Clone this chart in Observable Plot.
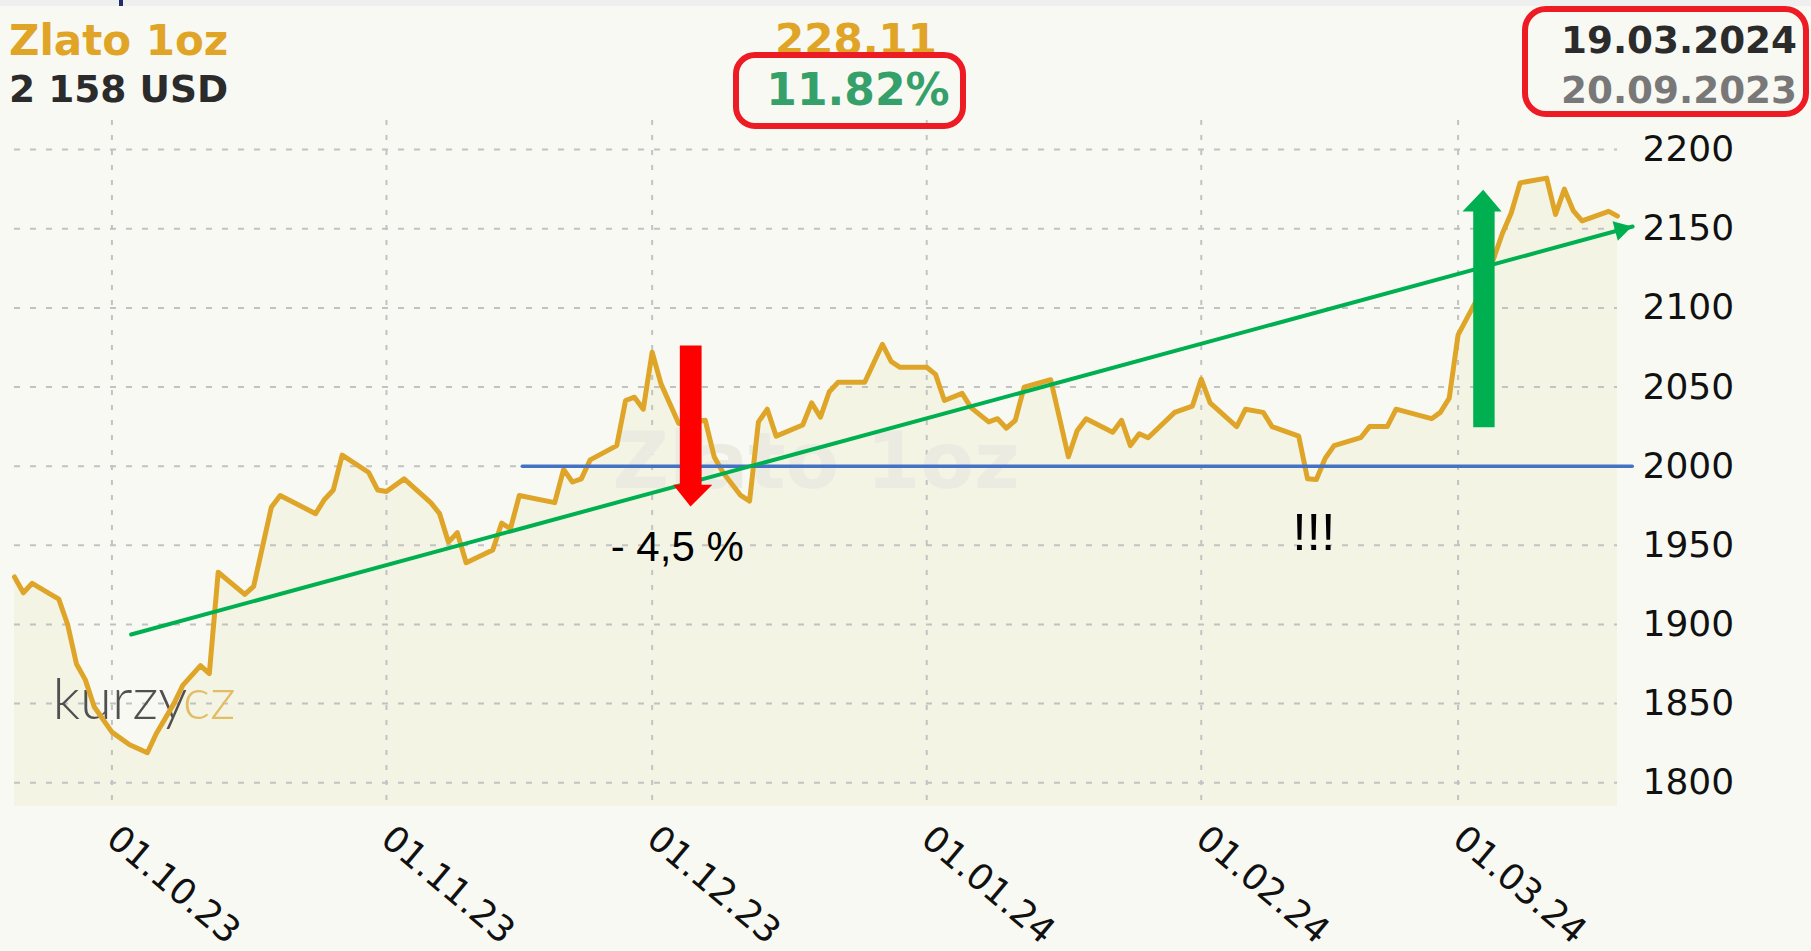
<!DOCTYPE html>
<html><head><meta charset="utf-8">
<script src="https://cdn.jsdelivr.net/npm/d3@7"></script>
<script src="https://cdn.jsdelivr.net/npm/@observablehq/plot@0.6"></script>
<style>
html,body{margin:0;padding:0;background:#f9f9f4;}
#wrap{position:relative;width:1811px;height:951px;overflow:hidden;background:#f9f9f4;font-family:"DejaVu Sans",Verdana,sans-serif;}
#chart{position:absolute;left:0;top:0;}
.t{position:absolute;font-weight:bold;white-space:nowrap;line-height:1;}
.box{position:absolute;box-sizing:border-box;border:6px solid #ed1c24;}
</style></head><body>
<div id="wrap">
  <div id="chart"></div>
  <div style="position:absolute;left:0;top:0;width:1811px;height:6px;background:#efefef"></div>
  <div style="position:absolute;left:119px;top:0;width:4px;height:6px;background:#1f2f6e"></div>
  <div class="t" id="name" style="left:9px;top:19.5px;font-size:42px;color:#e0a526"></div>
  <div class="t" id="price" style="left:9px;top:70.8px;font-size:37.5px;color:#2b2b2b"></div>
  <div class="t" id="chg" style="left:856px;top:18.5px;font-size:42px;color:#e0a526;transform:translateX(-50%)"></div>
  <div class="t" id="pct" style="left:858px;top:67.8px;font-size:44px;color:#35a06a;transform:translateX(-50%)"></div>
  <div class="t" id="d1" style="right:14px;top:21.9px;font-size:37.3px;color:#2b2b2b"></div>
  <div class="t" id="d0" style="right:14px;top:72.4px;font-size:37.3px;color:#787878"></div>
  <div class="box" style="left:733px;top:52px;width:233px;height:77px;border-radius:22px"></div>
  <div class="box" style="left:1522px;top:6px;width:287px;height:111px;border-radius:24px"></div>
</div>
<script>
// ---- header texts ----
const titleName = "Zlato 1oz";
const titlePrice = "2 158 USD";
const titleChange = "228.11";
const titlePct = "11.82%";
const dateEnd = "19.03.2024";
const dateStart = "20.09.2023";

// ---- price series (USD / oz) ----
const dates = [
"2023-09-20","2023-09-21","2023-09-22","2023-09-25","2023-09-26","2023-09-27","2023-09-28","2023-09-29",
"2023-10-01","2023-10-03","2023-10-05","2023-10-06","2023-10-08","2023-10-09","2023-10-11","2023-10-12",
"2023-10-13","2023-10-16","2023-10-17","2023-10-19","2023-10-20","2023-10-24","2023-10-25","2023-10-26",
"2023-10-27","2023-10-30","2023-10-31","2023-11-01","2023-11-03","2023-11-06","2023-11-07","2023-11-08",
"2023-11-09","2023-11-10","2023-11-13","2023-11-14","2023-11-15","2023-11-16","2023-11-20","2023-11-21",
"2023-11-22","2023-11-23","2023-11-24","2023-11-27","2023-11-28","2023-11-29","2023-11-30","2023-12-01",
"2023-12-02","2023-12-04","2023-12-07","2023-12-08","2023-12-09","2023-12-11","2023-12-12","2023-12-13",
"2023-12-14","2023-12-15","2023-12-18","2023-12-19","2023-12-20","2023-12-21","2023-12-22","2023-12-25",
"2023-12-26","2023-12-27","2023-12-28","2023-12-29","2024-01-01","2024-01-02","2024-01-03","2024-01-05",
"2024-01-06","2024-01-08","2024-01-09","2024-01-10","2024-01-11","2024-01-12","2024-01-15","2024-01-17",
"2024-01-18","2024-01-19","2024-01-22","2024-01-23","2024-01-24","2024-01-25","2024-01-26","2024-01-29",
"2024-01-31","2024-02-01","2024-02-02","2024-02-05","2024-02-06","2024-02-08","2024-02-09","2024-02-12",
"2024-02-13","2024-02-14","2024-02-15","2024-02-16","2024-02-19","2024-02-20","2024-02-22","2024-02-23",
"2024-02-27","2024-02-28","2024-02-29","2024-03-01","2024-03-03","2024-03-05","2024-03-06","2024-03-07",
"2024-03-08","2024-03-11","2024-03-12","2024-03-13","2024-03-14","2024-03-15","2024-03-18","2024-03-19"];
const prices = [
1930,1920,1926,1916,1900,1875,1865,1848,
1832,1824,1819,1831,1850,1861.5,1874,1869,
1933,1919,1924,1974,1981.5,1970,1979,1985,
2007,1996,1985,1984,1992,1977,1970,1952,
1958,1939,1947,1964,1960.5,1981.5,1977,1998,
1990,1992,2004,2013,2041.5,2043.6,2036,2072,
2052,2027,2029,2006,1996,1981.5,1978,2028,
2036,2019,2026,2040,2031,2047,2053,2053,
2065,2077,2066,2062.5,2062.5,2058,2041.5,2046,
2037,2028,2030,2024,2029,2050,2054.6,2006,
2022.6,2030,2021.5,2029,2013,2020.5,2018,2034,
2038,2055,2040,2025,2036,2034,2025,2019,
1992,1991.6,2005,2013,2018,2025,2025,2036,
2030,2034,2043,2083,2104,2131,2147,2160,
2179,2182,2159,2175,2161.5,2155,2161,2158];

// ---- axes ----
const yTicks = [1800,1850,1900,1950,2000,2050,2100,2150,2200];
const monthTicks = ["2023-10-01","2023-11-01","2023-12-01","2024-01-01","2024-02-01","2024-03-01"];
const xDomain = ["2023-09-20","2024-03-19"];
const yDomain = [1785, 2218.4];

// ---- annotations (data units) ----
const levelDates = ["2023-11-16T08:00Z","2024-03-20T16:00Z"];
const levelValues = [2000, 2000];
const trendDates = ["2023-10-03T04:00Z","2024-03-20T17:00Z"];
const trendValues = [1893.7, 2151.4];
const trendHeadDate = ["2024-03-19T09:00Z"];
const trendHeadValue = [2149.5];
const redArrowDates = ["2023-12-04T03:00Z","2023-12-06T14:00Z","2023-12-06T14:00Z","2023-12-07T19:00Z","2023-12-05T08:00Z","2023-12-03T09:00Z","2023-12-04T03:00Z"];
const redArrowValues = [2076.2,2076.2,1988.2,1988.2,1974.5,1988.2,1988.2];
const greenArrowDates = ["2024-03-02T17:00Z","2024-03-05T03:00Z","2024-03-05T03:00Z","2024-03-05T22:00Z","2024-03-03T20:00Z","2024-03-01T12:00Z","2024-03-02T17:00Z"];
const greenArrowValues = [2024.6,2024.6,2160.9,2160.9,2174.6,2160.9,2160.9];
const noteTexts = ["- 4,5 %", "!!!"];
const noteDates = ["2023-12-03T20:00Z","2024-02-13T17:00Z"];
const noteValues = [1948.6, 1957.5];
const noteWeights = ["normal","bold"];
const noteSizes = [42, 52];
const logoTexts = ["kurzy","cz"];
const logoDates = ["2023-09-24T07:00Z","2023-10-09T00:00Z"];
const logoValues = [1852, 1852];
const logoColors = ["#505050","#e2bd66"];

document.getElementById("name").textContent = titleName;
document.getElementById("price").textContent = titlePrice;
document.getElementById("chg").textContent = titleChange;
document.getElementById("pct").textContent = titlePct;
document.getElementById("d1").textContent = dateEnd;
document.getElementById("d0").textContent = dateStart;

const P = s => new Date(s);
const series = dates.map((d, i) => ({date: P(d), price: prices[i]}));
const level = levelDates.map((d, i) => ({date: P(d), v: levelValues[i]}));
const trend = trendDates.map((d, i) => ({date: P(d), v: trendValues[i]}));
const head = trendHeadDate.map((d, i) => ({date: P(d), v: trendHeadValue[i]}));
const redArrow = redArrowDates.map((d, i) => ({date: P(d), v: redArrowValues[i]}));
const greenArrow = greenArrowDates.map((d, i) => ({date: P(d), v: greenArrowValues[i]}));
const notes = noteTexts.map((t, i) => ({t, date: P(noteDates[i]), v: noteValues[i], w: noteWeights[i], s: noteSizes[i]}));
const logo = logoTexts.map((t, i) => ({t, date: P(logoDates[i]), v: logoValues[i], c: logoColors[i]}));
const months = monthTicks.map(P);

const chart = Plot.plot({
  width: 1811, height: 951,
  marginTop: 120, marginBottom: 145, marginLeft: 14, marginRight: 194,
  style: {background: "transparent", fontFamily: "DejaVu Sans, Verdana, sans-serif", fontSize: "36px"},
  x: {type: "utc", domain: xDomain.map(P)},
  y: {domain: yDomain},
  marks: [
    Plot.areaY(series, {x: "date", y1: yDomain[0], y2: "price", fill: "#f4f4e4"}),
    Plot.gridY(yTicks, {stroke: "#c2c2c2", strokeOpacity: 1, strokeWidth: 2, strokeDasharray: "6,10"}),
    Plot.gridX(months, {stroke: "#c2c2c2", strokeOpacity: 1, strokeWidth: 2, strokeDasharray: "5,10"}),
    Plot.text([titleName], {frameAnchor: "middle", fontSize: 78, fontWeight: "bold", fill: "#ebebe1", fontFamily: "DejaVu Sans"}),
    Plot.text(logo, {x: "date", y: "v", text: "t", fill: "c", textAnchor: "start", fontSize: 58, fontWeight: 300, fontFamily: "Lato, sans-serif"}),
    Plot.line(series, {x: "date", y: "price", stroke: "#dea528", strokeWidth: 5, strokeLinejoin: "round"}),
    Plot.line(level, {x: "date", y: "v", stroke: "#4472c4", strokeWidth: 3.5}),
    Plot.line(trend, {x: "date", y: "v", stroke: "#00b050", strokeWidth: 4}),
    Plot.dot(head, {x: "date", y: "v", symbol: "triangle", r: 7.5, fill: "#00b050", stroke: "none", rotate: 74.8}),
    Plot.line(redArrow, {x: "date", y: "v", fill: "#ff0000", stroke: "none"}),
    Plot.line(greenArrow, {x: "date", y: "v", fill: "#00b050", stroke: "none"}),
    Plot.text(notes, {x: "date", y: "v", text: "t", fontWeight: "w", fontSize: "s", fill: "#000", fontFamily: "Liberation Sans, Arial, sans-serif"}),
    Plot.axisY(yTicks, {anchor: "right", tickSize: 0, tickPadding: 25, fontSize: 36, color: "#111", label: null, tickFormat: d3.format("d")}),
    Plot.axisX(months, {tickSize: 0, tickPadding: 27, tickRotate: 40, fontSize: 36, color: "#111", label: null, tickFormat: d3.utcFormat("%d.%m.%y")})
  ]
});
document.getElementById("chart").appendChild(chart);
</script>
</body></html>
